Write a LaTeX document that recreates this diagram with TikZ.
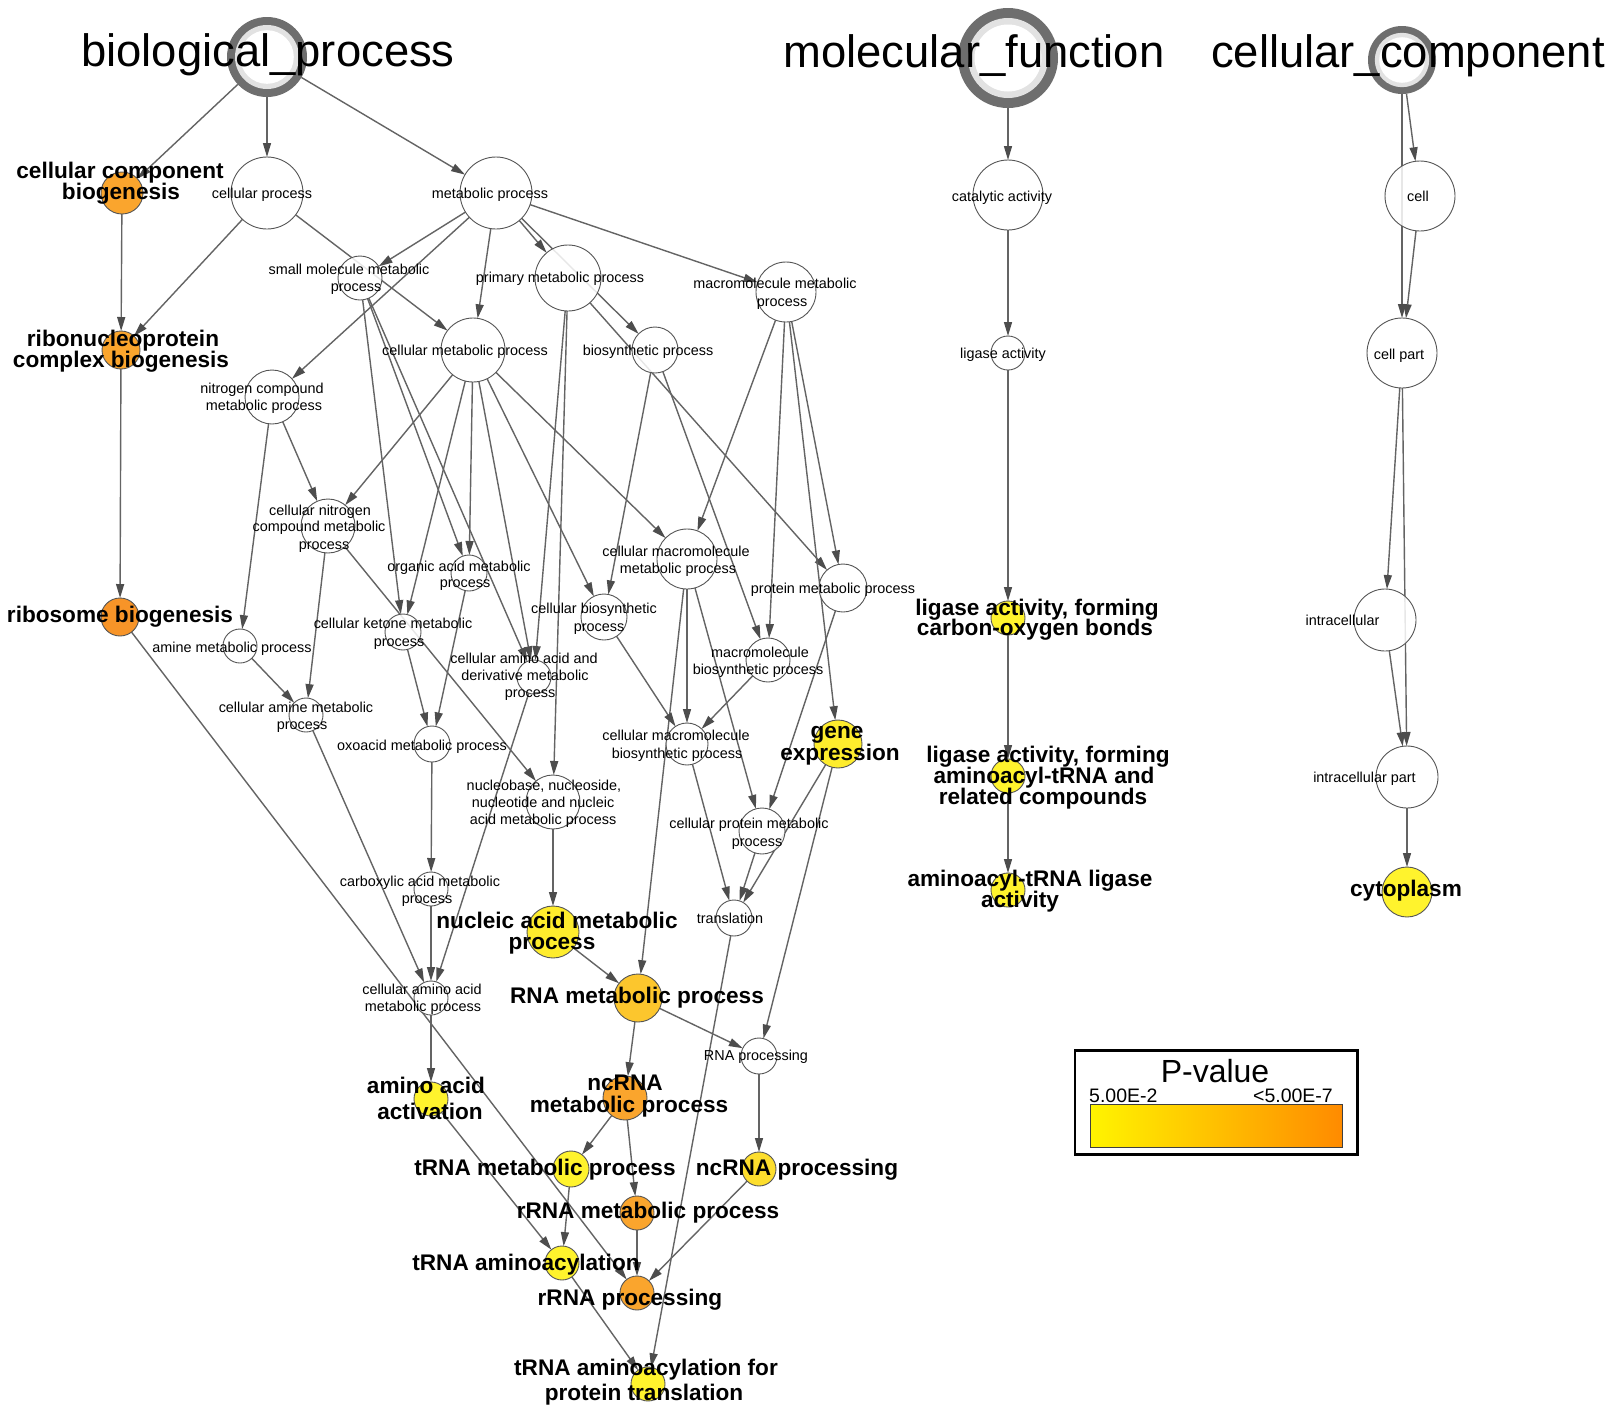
\documentclass[tikz,border=0pt]{standalone}
\usepackage{fontspec}
\setmainfont{Liberation Sans}
\usetikzlibrary{arrows.meta,backgrounds}

\definecolor{edgegray}{HTML}{646464}
\definecolor{tipgray}{HTML}{4D4D4D}
\definecolor{nodeborder}{HTML}{555555}
\definecolor{ringdark}{HTML}{6E6E6E}
\definecolor{ringlight}{HTML}{E2E2E2}
\definecolor{pOrangeA}{RGB}{247,148,40}
\definecolor{pOrangeB}{RGB}{250,165,45}
\definecolor{pGold}{RGB}{252,198,45}
\definecolor{pGoldY}{RGB}{253,222,45}
\definecolor{pYelA}{RGB}{254,236,45}
\definecolor{pYelB}{RGB}{255,243,45}
\definecolor{barYellow}{RGB}{255,255,0}
\definecolor{barOrange}{RGB}{255,128,0}

\pgfdeclarehorizontalshading{pvalshade}{100bp}{color(0bp)=(barYellow); color(20bp)=(barYellow); color(80bp)=(barOrange); color(100bp)=(barOrange)}

\begin{document}
\begin{tikzpicture}[x=1pt,y=-1pt,
  gonode/.style={circle, draw=nodeborder, line width=0.9pt, inner sep=0pt, outer sep=0pt},
  wnode/.style={gonode, fill=white, fill opacity=0.85},
  rad/.style={minimum size=2*#1 pt},
  rootnode/.style={circle, inner sep=0pt, outer sep=0pt},
  goarrow/.style={draw=edgegray, line width=1.4pt, -{Triangle[length=14pt,width=8pt,color=tipgray]}},
  slbl/.style={anchor=base, inner sep=0pt, font=\fontsize{14.4}{17}\selectfont},
  blbl/.style={anchor=base, inner sep=0pt, font=\fontsize{22.6}{21}\selectfont\bfseries},
  ttl/.style={anchor=base, inner sep=0pt, font=\fontsize{45.4}{50}\selectfont},
]
\useasboundingbox (0,0) rectangle (1620,1406);

% ---------- root terms ----------
\node[rootnode, rad=40] (bpr) at (267,57) {};
\node[rootnode, rad=50] (mfr) at (1008,58) {};
\node[rootnode, rad=34] (ccr) at (1402,60) {};

% ---------- biological process terms ----------
\node[gonode, rad=21, fill=pOrangeB] (ccb) at (122,193) {};
\node[wnode, rad=36] (cp) at (267,193) {};
\node[wnode, rad=36] (mp) at (496,193) {};
\node[wnode, rad=22] (smmp) at (360,278) {};
\node[wnode, rad=33] (pmp) at (568,278) {};
\node[wnode, rad=30] (mmp) at (786,292) {};
\node[gonode, rad=19, fill=pOrangeB] (rcb) at (121,350) {};
\node[wnode, rad=27] (ncmp) at (272,397) {};
\node[wnode, rad=32] (cmp) at (473,350) {};
\node[wnode, rad=23] (bsp) at (655,350) {};
\node[wnode, rad=27] (cncmp) at (328,526) {};
\node[gonode, rad=19, fill=pOrangeA] (ribo) at (120,617) {};
\node[wnode, rad=17] (amine) at (240,646) {};
\node[wnode, rad=18] (ketone) at (403,632) {};
\node[wnode, rad=17] (camine) at (306,715) {};
\node[wnode, rad=18] (oxo) at (432,744) {};
\node[wnode, rad=17] (carbox) at (431,889) {};
\node[wnode, rad=18] (organic) at (469,573) {};
\node[wnode, rad=30] (cmmp) at (687,559) {};
\node[wnode, rad=24] (protein) at (843,588) {};
\node[wnode, rad=23] (cbp) at (604,617) {};
\node[wnode, rad=17] (caad) at (534,677) {};
\node[wnode, rad=22] (mbp) at (768,660) {};
\node[wnode, rad=21] (cmbp) at (687,744) {};
\node[gonode, rad=24, fill=pYelA] (gene) at (838,744) {};
\node[wnode, rad=27] (nucl) at (553,802) {};
\node[wnode, rad=23] (cprot) at (762,831) {};
\node[wnode, rad=18] (transl) at (734,918) {};
\node[gonode, rad=26, fill=pYelA] (nam) at (553,932) {};
\node[wnode, rad=17] (caa) at (431,998) {};
\node[gonode, rad=17, fill=pYelB] (aaa) at (431,1099) {};
\node[gonode, rad=24, fill=pGold] (rnam) at (638,998) {};
\node[wnode, rad=18] (rnap) at (759,1056) {};
\node[gonode, rad=22, fill=pOrangeB] (ncrnam) at (625,1098) {};
\node[gonode, rad=18, fill=pYelB] (trnam) at (571,1169) {};
\node[gonode, rad=17, fill=pGoldY] (ncrnap) at (759,1169) {};
\node[gonode, rad=17, fill=pOrangeB] (rrnam) at (637,1213) {};
\node[gonode, rad=17, fill=pYelB] (trnaa) at (562,1263) {};
\node[gonode, rad=17, fill=pOrangeB] (rrnap) at (637,1293) {};
\node[gonode, rad=17, fill=pYelB] (trnapt) at (648,1384) {};

% ---------- molecular function terms ----------
\node[wnode, rad=35] (cat) at (1008,195) {};
\node[wnode, rad=17] (lig) at (1008,353) {};
\node[gonode, rad=17, fill=pYelB] (ligco) at (1008,618) {};
\node[gonode, rad=17, fill=pYelB] (ligaa) at (1008,776) {};
\node[gonode, rad=17, fill=pYelB] (aats) at (1008,890) {};

% ---------- cellular component terms ----------
\node[wnode, rad=35] (cell) at (1420,196) {};
\node[wnode, rad=35] (cellpart) at (1402,353) {};
\node[wnode, rad=31] (intra) at (1385,620) {};
\node[wnode, rad=31] (intrapart) at (1407,777) {};
\node[gonode, rad=25, fill=pYelB] (cyto) at (1407,892) {};

% ---------- is-a connectors, drawn beneath the terms ----------
\begin{pgfonlayer}{background}
\fill[white] (0,0) rectangle (1620,1406);
\foreach \a/\b in {bpr/ccb, bpr/cp, bpr/mp,
  ccb/rcb, cp/rcb, cp/cmp,
  mp/smmp, mp/ncmp, mp/pmp, mp/cmp, mp/bsp, mp/mmp,
  rcb/ribo,
  smmp/ketone, smmp/organic, smmp/caad,
  pmp/caad, pmp/nucl, pmp/protein,
  mmp/cmmp, mmp/mbp, mmp/gene, mmp/protein,
  cmp/cncmp, cmp/ketone, cmp/organic, cmp/caad, cmp/cbp, cmp/cmmp,
  bsp/cbp, bsp/mbp,
  ncmp/amine, ncmp/cncmp,
  cncmp/camine, cncmp/nucl,
  amine/camine,
  ketone/oxo, organic/oxo, oxo/carbox,
  camine/caa, carbox/caa, caad/caa,
  cmmp/cmbp, cmmp/cprot, cmmp/rnam,
  cbp/cmbp, mbp/cmbp, protein/cprot,
  cmbp/transl, cprot/transl, gene/transl, gene/rnap,
  nucl/nam, nam/rnam,
  rnam/rnap, rnam/ncrnam, rnap/ncrnap,
  ncrnam/trnam, ncrnam/rrnam,
  trnam/trnaa, aaa/trnaa, caa/aaa,
  rrnam/rrnap, ncrnap/rrnap, ribo/rrnap,
  trnaa/trnapt, transl/trnapt,
  mfr/cat, cat/lig, lig/ligco, ligco/ligaa, ligaa/aats,
  ccr/cell, ccr/cellpart, cell/cellpart, cellpart/intra, cellpart/intrapart,
  intra/intrapart, intrapart/cyto}
  \draw[goarrow] (\a) -- (\b);
\end{pgfonlayer}

% ---------- root rings ----------
\foreach \n/\r in {bpr/40, mfr/50, ccr/34} {
  \fill[ringdark] (\n.center) circle[radius=\r pt];
  \fill[ringlight] (\n.center) circle[radius=0.8*\r pt];
  \fill[white] (\n.center) circle[radius=0.67*\r pt];
}

% ---------- titles ----------
\node[ttl] (t-bp) at (268,66) {biological\_process};
\node[ttl] (t-mf) at (974,67) {molecular\_function};
\node[ttl] (t-cc) at (1408,67) {cellular\_component};

% ---------- term labels (enriched terms in bold) ----------
\node[blbl] (l-ccb-1) at (120,178) {cellular component};
\node[blbl] (l-ccb-2) at (121,199) {biogenesis};
\node[blbl] (l-rcb-1) at (123,346) {ribonucleoprotein};
\node[blbl] (l-rcb-2) at (121,367) {complex biogenesis};
\node[blbl] (l-ribo) at (120,622) {ribosome biogenesis};
\node[blbl] (l-gene-1) at (837,738) {gene};
\node[blbl] (l-gene-2) at (840,760) {expression};
\node[blbl] (l-nam-1) at (557,928) {nucleic acid metabolic};
\node[blbl] (l-nam-2) at (552,949) {process};
\node[blbl] (l-rnam) at (637,1003) {RNA metabolic process};
\node[blbl] (l-ncrnam-1) at (625,1090) {ncRNA};
\node[blbl] (l-ncrnam-2) at (629,1112) {metabolic process};
\node[blbl] (l-trnam) at (545,1175) {tRNA metabolic process};
\node[blbl] (l-ncrnap) at (797,1175) {ncRNA processing};
\node[blbl] (l-rrnam) at (648,1218) {rRNA metabolic process};
\node[blbl] (l-trnaa) at (526,1270) {tRNA aminoacylation};
\node[blbl] (l-rrnap) at (630,1305) {rRNA processing};
\node[blbl] (l-trnapt-1) at (646,1375) {tRNA aminoacylation for};
\node[blbl] (l-trnapt-2) at (644,1400) {protein translation};
\node[blbl] (l-aaa-1) at (426,1093) {amino acid};
\node[blbl] (l-aaa-2) at (430,1119) {activation};
\node[blbl] (l-ligco-1) at (1037,615) {ligase activity, forming};
\node[blbl] (l-ligco-2) at (1035,635) {carbon-oxygen bonds};
\node[blbl] (l-ligaa-1) at (1048,762) {ligase activity, forming};
\node[blbl] (l-ligaa-2) at (1044,783) {aminoacyl-tRNA and};
\node[blbl] (l-ligaa-3) at (1043,804) {related compounds};
\node[blbl] (l-aats-1) at (1030,886) {aminoacyl-tRNA ligase};
\node[blbl] (l-aats-2) at (1020,907) {activity};
\node[blbl] (l-cyto) at (1406,896) {cytoplasm};

\node[slbl] (l-cp) at (262,198) {cellular process};
\node[slbl] (l-mp) at (490,198) {metabolic process};
\node[slbl] (l-smmp-1) at (349,274) {small molecule metabolic};
\node[slbl] (l-smmp-2) at (356,291) {process};
\node[slbl] (l-pmp) at (560,282) {primary metabolic process};
\node[slbl] (l-mmp-1) at (775,288) {macromolecule metabolic};
\node[slbl] (l-mmp-2) at (782,306) {process};
\node[slbl] (l-cmp) at (465,355) {cellular metabolic process};
\node[slbl] (l-bsp) at (648,355) {biosynthetic process};
\node[slbl] (l-ncmp-1) at (262,393) {nitrogen compound};
\node[slbl] (l-ncmp-2) at (264,410) {metabolic process};
\node[slbl] (l-cncmp-1) at (320,515) {cellular nitrogen};
\node[slbl] (l-cncmp-2) at (319,531) {compound metabolic};
\node[slbl] (l-cncmp-3) at (324,549) {process};
\node[slbl] (l-amine) at (232,652) {amine metabolic process};
\node[slbl] (l-ketone-1) at (393,628) {cellular ketone metabolic};
\node[slbl] (l-ketone-2) at (399,646) {process};
\node[slbl] (l-camine-1) at (296,712) {cellular amine metabolic};
\node[slbl] (l-camine-2) at (302,729) {process};
\node[slbl] (l-oxo) at (422,750) {oxoacid metabolic process};
\node[slbl] (l-carbox-1) at (420,886) {carboxylic acid metabolic};
\node[slbl] (l-carbox-2) at (427,903) {process};
\node[slbl] (l-organic-1) at (459,571) {organic acid metabolic};
\node[slbl] (l-organic-2) at (465,587) {process};
\node[slbl] (l-cmmp-1) at (676,556) {cellular macromolecule};
\node[slbl] (l-cmmp-2) at (678,573) {metabolic process};
\node[slbl] (l-protein) at (833,593) {protein metabolic process};
\node[slbl] (l-cbp-1) at (594,613) {cellular biosynthetic};
\node[slbl] (l-cbp-2) at (599,631) {process};
\node[slbl] (l-caad-1) at (524,663) {cellular amino acid and};
\node[slbl] (l-caad-2) at (525,680) {derivative metabolic};
\node[slbl] (l-caad-3) at (530,697) {process};
\node[slbl] (l-mbp-1) at (760,657) {macromolecule};
\node[slbl] (l-mbp-2) at (758,674) {biosynthetic process};
\node[slbl] (l-cmbp-1) at (676,740) {cellular macromolecule};
\node[slbl] (l-cmbp-2) at (677,758) {biosynthetic process};
\node[slbl] (l-nucl-1) at (544,790) {nucleobase, nucleoside,};
\node[slbl] (l-nucl-2) at (543,807) {nucleotide and nucleic};
\node[slbl] (l-nucl-3) at (543,824) {acid metabolic process};
\node[slbl] (l-cprot-1) at (749,828) {cellular protein metabolic};
\node[slbl] (l-cprot-2) at (757,846) {process};
\node[slbl] (l-transl) at (730,923) {translation};
\node[slbl] (l-caa-1) at (422,994) {cellular amino acid};
\node[slbl] (l-caa-2) at (423,1011) {metabolic process};
\node[slbl] (l-rnap) at (756,1060) {RNA processing};
\node[slbl] (l-cat) at (1002,201) {catalytic activity};
\node[slbl] (l-lig) at (1003,358) {ligase activity};
\node[slbl] (l-cell) at (1418,201) {cell};
\node[slbl] (l-cellpart) at (1399,359) {cell part};
\node[slbl] (l-intra) at (1342.5,625) {intracellular};
\node[slbl] (l-intrapart) at (1364.5,782) {intracellular part};

% ---------- P-value legend ----------
\node[draw=black, line width=2.5pt, rectangle, inner sep=0pt,
      minimum width=282.5pt, minimum height=104pt] (legend) at (1216.25,1102.5) {};
\node[anchor=base, inner sep=0pt, font=\fontsize{32}{36}\selectfont] (leg-title) at (1215,1082) {P-value};
\node[anchor=base west, inner sep=0pt, font=\fontsize{19.5}{22}\selectfont] (leg-lo) at (1089,1102) {5.00E-2};
\node[anchor=base east, inner sep=0pt, font=\fontsize{19.5}{22}\selectfont] (leg-hi) at (1333,1102) {<5.00E-7};
\node[rectangle, draw=black!75, line width=1pt, shading=pvalshade, inner sep=0pt,
      minimum width=252.5pt, minimum height=42.8pt] (leg-bar) at (1216.25,1125.9) {};
\end{tikzpicture}
\end{document}
